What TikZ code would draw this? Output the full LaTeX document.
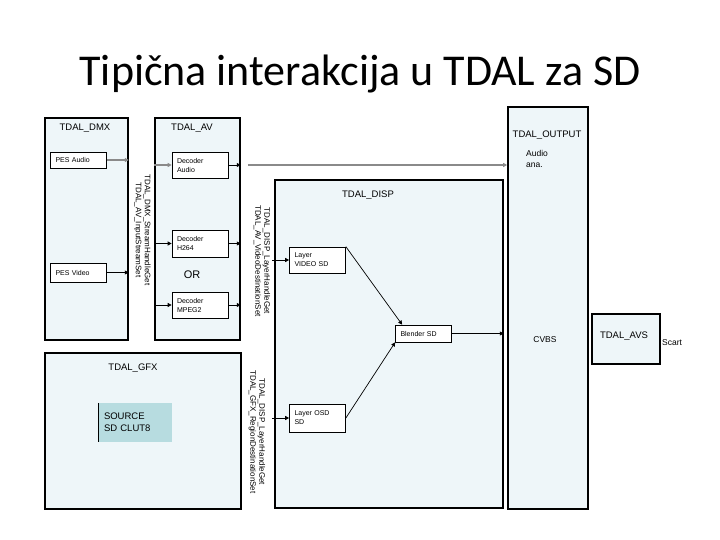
\documentclass[tikz,border=0pt]{standalone}
\usepackage{fontspec}
\setmainfont{Liberation Sans}
\newfontfamily\slidefont{Carlito}
\usepackage{xcolor}
\definecolor{tdalfill}{HTML}{EEF6F9}
\definecolor{tdalsrc}{HTML}{B7DCE0}
\definecolor{tdalgray}{HTML}{8A8A8A}
\usetikzlibrary{arrows.meta,positioning}

\begin{document}
\begin{tikzpicture}[x=1pt,y=-1pt,
  module/.style={draw=black, fill=tdalfill, line width=1.6pt, inner sep=0pt},
  block/.style={draw=black, fill=white, line width=0.7pt, text width=46pt,
                inner xsep=5pt, inner ysep=0pt, align=left,
                font=\fontsize{7}{9}\selectfont},
  ttl/.style={font=\fontsize{9.5}{11}\selectfont},
  api/.style={rotate=-90, align=center, inner sep=0pt,
              font=\fontsize{8}{9}\selectfont},
  plain/.style={align=left, inner sep=0pt, font=\fontsize{8.5}{11}\selectfont},
  flow/.style={draw=black, line width=0.7pt, -{Triangle[length=4pt,width=4pt]}},
  aflow/.style={draw=tdalgray, line width=1.2pt, -{Triangle[length=4pt,width=4pt]}}
]
\useasboundingbox (0,0) rectangle (720,540);

\node[anchor=base, inner sep=0pt, font=\slidefont\fontsize{44}{50}\selectfont]
  (title) at (360,86) {Tipična interakcija u TDAL za SD};

%% Modules
\node[module, minimum width=83, minimum height=222] (dmx) at (86.5,229) {};
\node[module, minimum width=85, minimum height=222] (av) at (197.5,229) {};
\node[module, minimum width=196, minimum height=156] (gfx) at (143,431) {};
\node[module, minimum width=228, minimum height=328] (disp) at (389,344) {};
\node[module, minimum width=80, minimum height=402] (output) at (548,308) {};
\node[module, minimum width=68, minimum height=50] (avs) at (626,339) {};

\node[ttl] (dmxttl) at (85,128) {TDAL\_DMX};
\node[ttl] (avttl) at (192,128) {TDAL\_AV};
\node[ttl] (gfxttl) at (133,368) {TDAL\_GFX};
\node[ttl] (dispttl) at (368,195) {TDAL\_DISP};
\node[ttl] (outputttl) at (547,135) {TDAL\_OUTPUT};
\node[ttl] (avsttl) at (624,336) {TDAL\_AVS};

%% Blocks
\node[block, minimum height=16] (pesaudio) at (78.5,160) {PES Audio};
\node[block, minimum height=19] (pesvideo) at (78.5,272.5) {PES Video};
\node[block, minimum height=26] (decaudio) at (200,165) {Decoder\\Audio};
\node[block, minimum height=27] (dech264) at (200,243.5) {Decoder\\H264};
\node[block, minimum height=26] (decmpeg) at (200,305) {Decoder\\MPEG2};
\node[font=\fontsize{11}{13}\selectfont] (or) at (192,275) {OR};
\node[block, minimum height=26] (layervideo) at (317.5,260) {Layer\\VIDEO SD};
\node[block, minimum height=28] (layerosd) at (317.5,418) {Layer OSD\\SD};
\node[block, minimum height=17] (blender) at (423.5,333.5) {Blender SD};
\node[fill=tdalsrc, minimum width=73, minimum height=39, text width=63pt,
      inner xsep=5pt, align=left, font=\fontsize{9.5}{12}\selectfont]
  (source) at (135.5,422.5) {SOURCE\\SD CLUT8};
\draw[line width=0.7pt] (source.north west) -- (source.south west);

\node[api] (dmxapi) at (142.5,230)
  {TDAL\_DMX\_StreamHandleGet\\TDAL\_AV\_InputStreamSet};
\node[api] (videoapi) at (262,261)
  {TDAL\_DISP\_LayerHandleGet\\TDAL\_AV\_VideoDestinationSet};
\node[api] (gfxapi) at (257,432)
  {TDAL\_DISP\_LayerHandleGet\\TDAL\_GFX\_RegionDestinationSet};

\node[plain, anchor=north west] (audioana) at (526,150) {Audio\\ana.};
\node[plain] (cvbs) at (545,340) {CVBS};
\node[plain, anchor=west] (scart) at (662,343) {Scart};

%% Audio path
\draw[aflow] (pesaudio.east) -- (pesaudio.east -| dmx.east);
\draw[aflow] (decaudio.west -| av.west) -- (decaudio.west);
\draw[flow] (decaudio.east) -- (decaudio.east -| av.east);
\draw[aflow] ([xshift=7pt]decaudio.east -| av.east) -- (decaudio.east -| output.west);

%% Video path
\draw[flow] (pesvideo.east) -- (pesvideo.east -| dmx.east);
\foreach \d in {dech264,decmpeg}{
  \draw[flow] (\d.west -| av.west) -- (\d.west);
  \draw[flow] (\d.east) -- (\d.east -| av.east);
}
\draw[flow] ([xshift=-2pt]layervideo.west -| disp.west) -- (layervideo.west);
\draw[flow] ([xshift=-2pt]layerosd.west -| disp.west) -- (layerosd.west);
\draw[flow] (layervideo.north east) -- ([xshift=7pt]blender.north west);
\draw[flow] (layerosd.east) -- (blender.south west);
\draw[flow] (blender.east) -- (blender.east -| disp.east);

\end{tikzpicture}
\end{document}
